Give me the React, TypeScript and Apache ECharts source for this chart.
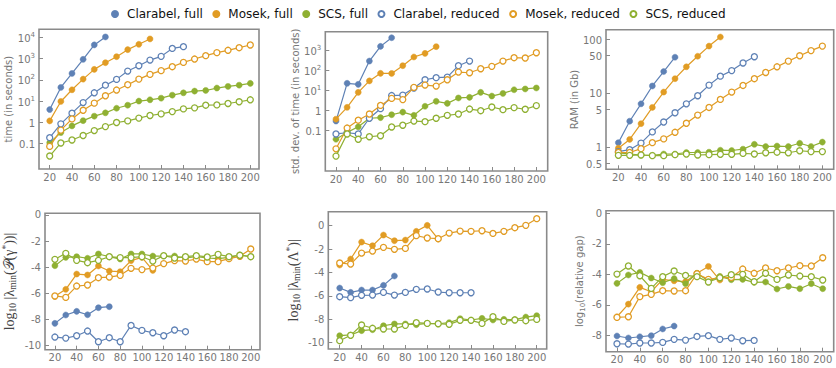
import React, { useEffect, useRef } from "react";
import * as echarts from "echarts";

const sizes = [20, 30, 40, 50, 60, 70, 80, 90, 100, 110, 120, 130, 140, 150, 160, 170, 180, 190, 200];
const seriesNames = ["Clarabel, full", "Mosek, full", "SCS, full", "Clarabel, reduced", "Mosek, reduced", "SCS, reduced"];
const xTickLabels = [20, 40, 60, 80, 100, 120, 140, 160, 180, 200];

// time (seconds)
const timeClarabelFull = [4.0, 44, 200, 920, 4400, 10400];
const timeMosekFull = [1.17, 9.6, 34, 108, 310, 640, 1230, 2630, 4700, 8400];
const timeScsFull = [0.11, 0.33, 0.68, 1.2, 1.95, 2.8, 4.6, 6.4, 10, 11.5, 13.7, 19, 24.5, 29.5, 31.6, 41, 49, 56, 68];
const timeClarabelReduced = [0.19, 0.85, 2.7, 8.5, 24.5, 56, 105, 258, 460, 850, 1270, 3000, 3630];
const timeMosekReduced = [0.074, 0.43, 1.45, 3.7, 8.0, 17.8, 33, 59, 108, 180, 270, 415, 660, 950, 1370, 1900, 2450, 3250, 4350];
const timeScsReduced = [0.026, 0.107, 0.148, 0.24, 0.41, 0.63, 0.98, 1.17, 1.58, 2.1, 2.5, 3.2, 4.3, 4.8, 6.4, 6.6, 7.7, 9.3, 11.5];

// std. dev. of time (seconds)
const sdClarabelFull = [0.29, 22, 19.5, 282, 1520, 4100];
const sdMosekFull = [0.36, 1.4, 7.8, 29, 69, 68, 166, 450, 680, 1470];
const sdScsFull = [0.036, 0.079, 0.15, 0.4, 0.43, 0.6, 0.81, 0.56, 1.58, 2.8, 2.2, 4.1, 4.4, 7.8, 5.1, 6.9, 10.5, 11.5, 12.9];
const sdClarabelReduced = [0.066, 0.076, 0.066, 0.4, 1.2, 5.4, 5.7, 12.9, 33, 42, 45, 166, 282];
const sdMosekReduced = [0.012, 0.13, 0.32, 0.65, 1.74, 3.9, 3.4, 13.8, 18, 16, 33, 80, 74, 117, 154, 282, 415, 400, 735];
const sdScsReduced = [0.0052, 0.066, 0.036, 0.048, 0.054, 0.147, 0.18, 0.29, 0.27, 0.4, 0.56, 0.65, 1.15, 0.95, 1.45, 1.07, 1.35, 1.12, 1.7];

// RAM (Gb)
const ramClarabelFull = [1.2, 3.0, 6.3, 13.5, 25, 46];
const ramMosekFull = [0.95, 1.38, 2.7, 5.4, 10.4, 18.4, 30.6, 48, 74, 109];
const ramScsFull = [0.78, 0.74, 0.71, 0.7, 0.74, 0.74, 0.79, 0.79, 0.8, 0.87, 0.86, 0.91, 1.12, 1.02, 1.04, 1.02, 1.17, 1.02, 1.23];
const ramClarabelReduced = [0.82, 0.89, 1.18, 1.9, 2.9, 4.3, 6.3, 8.9, 14, 20.5, 26, 36, 47];
const ramMosekReduced = [0.79, 0.79, 0.93, 1.2, 1.41, 1.87, 2.75, 3.9, 5.4, 7.6, 10.4, 13.8, 18.4, 24, 30.6, 39, 49, 61, 74];
const ramScsReduced = [0.7, 0.7, 0.71, 0.69, 0.69, 0.72, 0.74, 0.71, 0.72, 0.73, 0.73, 0.76, 0.74, 0.78, 0.8, 0.78, 0.85, 0.82, 0.82];

// log10 |lambda_min(P(gamma*))|
const lpClarabelFull = [-8.31, -7.67, -7.39, -7.65, -7.11, -7.03];
const lpMosekFull = [-6.24, -5.7, -4.53, -4.6, -3.91, -4.3, -4.35, -3.5, -3.25, -4.25];
const lpScsFull = [-3.89, -3.25, -3.2, -3.32, -2.99, -3.2, -3.38, -2.99, -2.99, -3.15, -3.15, -3.15, -3.3, -3.2, -3.3, -3.35, -3.25, -3.07, -3.2];
const lpClarabelReduced = [-9.36, -9.44, -9.26, -8.9, -9.72, -9.41, -9.72, -8.47, -8.85, -9.03, -9.26, -8.82, -8.95];
const lpMosekReduced = [-6.21, -6.32, -5.45, -5.37, -4.81, -4.76, -4.63, -4.09, -4.19, -4.07, -3.73, -3.5, -3.53, -3.38, -3.58, -3.58, -3.35, -3.17, -2.61];
const lpScsReduced = [-3.4, -2.94, -3.48, -3.66, -3.48, -3.2, -3.27, -3.27, -3.2, -3.53, -3.12, -3.3, -3.2, -3.12, -3.22, -3.02, -3.2, -3.09, -3.2];

// log10 |lambda_min(Lambda*)|
const llClarabelFull = [-5.33, -5.7, -5.5, -5.5, -5.1, -4.3];
const llMosekFull = [-3.36, -2.85, -1.4, -1.71, -0.8, -1.28, -1.23, -0.48, 0.03, -1.14];
const llScsFull = [-9.4, -9.34, -8.97, -8.89, -8.55, -8.4, -8.4, -8.46, -8.35, -8.38, -8.29, -7.95, -8.06, -7.92, -8.06, -8.01, -8.03, -7.81, -7.69];
const llClarabelReduced = [-6.07, -6.15, -5.95, -5.93, -5.7, -5.93, -5.7, -5.44, -5.41, -5.67, -5.73, -5.73, -5.73];
const llMosekReduced = [-3.19, -3.28, -2.34, -2.17, -1.85, -2.02, -1.94, -0.85, -1.05, -1.11, -0.63, -0.46, -0.48, -0.43, -0.66, -0.48, -0.17, 0.03, 0.6];
const llScsReduced = [-9.83, -9.37, -8.49, -8.77, -8.83, -8.83, -8.52, -8.29, -8.35, -8.38, -8.43, -8.09, -8.09, -8.35, -7.78, -8.18, -8.06, -8.12, -8.01];

// log10(relative gap)
const gapClarabelFull = [-8.04, -8.17, -8.09, -8.02, -7.58, -7.39];
const gapMosekFull = [-6.78, -5.95, -4.85, -5.14, -4.33, -4.42, -4.48, -3.93, -3.48, -4.37];
const gapScsFull = [-4.59, -4.04, -3.87, -4.24, -4.55, -4.28, -4.61, -3.93, -4.44, -4.13, -4.35, -4.33, -4.52, -4.5, -4.96, -4.79, -4.94, -4.61, -4.94];
const gapClarabelReduced = [-8.55, -8.57, -8.5, -8.5, -8.46, -8.26, -8.31, -8.07, -8.02, -8.26, -8.17, -8.35, -8.33];
const gapMosekReduced = [-6.82, -6.78, -5.46, -5.31, -5.07, -5.09, -5.07, -3.96, -4.33, -4.22, -4.2, -3.65, -3.93, -3.58, -3.76, -3.58, -3.43, -3.45, -2.91];
const gapScsReduced = [-3.98, -3.45, -4.09, -4.92, -4.15, -3.78, -4.07, -4.15, -4.5, -4.22, -4.02, -4.0, -4.48, -3.93, -4.33, -4.04, -4.11, -4.15, -4.37];

// tick labels
const timeTicks = [0.1, 1, 10, 100, 1000, 10000];
const sdTicks = [0.1, 1, 10, 100, 1000];
const ramTicks = [0.5, 1, 5, 10, 50, 100];
const lpTicks = [0, -2, -4, -6, -8, -10];
const llTicks = [0, -2, -4, -6, -8, -10];
const gapTicks = [0, -2, -4, -6, -8];

const COLORS = ["#5E81B5", "#E19C24", "#8FB032"];
const FRAME = "#8a8a8a";
const LABEL = "#777777";

const panels = [
  { data: [timeClarabelFull, timeMosekFull, timeScsFull, timeClarabelReduced, timeMosekReduced, timeScsReduced], log: true, ticks: timeTicks, pow: true, name: "time (in seconds)", nameKind: "sans" },
  { data: [sdClarabelFull, sdMosekFull, sdScsFull, sdClarabelReduced, sdMosekReduced, sdScsReduced], log: true, ticks: sdTicks, pow: true, name: "std. dev. of time (in seconds)", nameKind: "sans" },
  { data: [ramClarabelFull, ramMosekFull, ramScsFull, ramClarabelReduced, ramMosekReduced, ramScsReduced], log: true, ticks: ramTicks, pow: false, name: "RAM (in Gb)", nameKind: "sans" },
  { data: [lpClarabelFull, lpMosekFull, lpScsFull, lpClarabelReduced, lpMosekReduced, lpScsReduced], log: false, ticks: lpTicks, pow: false, name: "{n|log}{sub|10}{n| |λ}{sub|min}{n|(𝒫(γ}{sup|*}{n|))|}", nameKind: "math" },
  { data: [llClarabelFull, llMosekFull, llScsFull, llClarabelReduced, llMosekReduced, llScsReduced], log: false, ticks: llTicks, pow: false, name: "{n|log}{sub|10}{n| |λ}{sub|min}{n|(Λ}{sup|*}{n|)|}", nameKind: "math" },
  { data: [gapClarabelFull, gapMosekFull, gapScsFull, gapClarabelReduced, gapMosekReduced, gapScsReduced], log: false, ticks: gapTicks, pow: false, name: "{n|log}{sub|10}{n|(relative gap)}", nameKind: "sansrich" },
];

// layout: box position (px) and axis ranges
const layout = [
  { left: 39, top: 29.3, width: 220, height: 139.7, xMin: 10.4, xMax: 207.8, yMin: -2.195, yMax: 4.377, nameGap: 24 },
  { left: 325.3, top: 31.7, width: 222.4, height: 139.3, xMin: 10.4, xMax: 210.2, yMin: -3.025, yMax: 3.913, nameGap: 24 },
  { left: 606, top: 29.7, width: 227.7, height: 139.6, xMin: 9.1, xMax: 210, yMin: -0.414, yMax: 2.173, nameGap: 21 },
  { left: 42.3, top: 213.3, width: 217.7, height: 136.4, xMin: 10.9, xMax: 208.5, yMin: -10.33, yMax: 0.128, nameGap: 27 },
  { left: 328.3, top: 211.7, width: 218.4, height: 137.3, xMin: 9.6, xMax: 209.1, yMin: -10.54, yMax: 1.197, nameGap: 26 },
  { left: 606, top: 210.7, width: 227.7, height: 141, xMin: 10.4, xMax: 209.6, yMin: -9.07, yMax: 0.175, nameGap: 20 },
];

function buildOption() {
  const grid: any[] = [];
  const xAxis: any[] = [];
  const yAxis: any[] = [];
  const series: any[] = [];

  panels.forEach((p, pi) => {
    const L = layout[pi];
    grid.push({
      left: L.left, top: L.top, width: L.width, height: L.height,
      show: true, borderColor: FRAME, borderWidth: 1.6, backgroundColor: "transparent",
    });
    xAxis.push({
      type: "value", gridIndex: pi, min: L.xMin, max: L.xMax, position: "bottom",
      axisLine: { show: false, onZero: false },
      splitLine: { show: false },
      axisTick: { show: true, inside: true, length: 4, customValues: xTickLabels, lineStyle: { color: FRAME, width: 1 } },
      axisLabel: { customValues: xTickLabels, color: LABEL, fontSize: 10, fontFamily: "DejaVu Sans", margin: 3 },
    });
    const tickVals = p.log ? p.ticks.map((t) => Math.log10(t)) : p.ticks;
    const formatter = (v: number) => {
      if (!p.log) return String(Math.round(v));
      const raw = Math.pow(10, v);
      const r = Math.round(raw * 10) / 10;
      if (p.pow && r >= 10) {
        const e = String(Math.round(v));
        return "{b|10}{s|" + e + "}";
      }
      return "{b|" + String(r) + "}";
    };
    let nameTextStyle: any;
    if (p.nameKind === "sans") {
      nameTextStyle = { color: LABEL, fontSize: 10, fontFamily: "DejaVu Sans" };
    } else if (p.nameKind === "sansrich") {
      nameTextStyle = {
        color: LABEL, fontSize: 10, fontFamily: "DejaVu Sans",
        rich: {
          n: { color: LABEL, fontSize: 10, fontFamily: "DejaVu Sans", lineHeight: 14, verticalAlign: "middle" },
          sub: { color: LABEL, fontSize: 7, fontFamily: "DejaVu Sans", lineHeight: 14, verticalAlign: "bottom" },
        },
      };
    } else {
      nameTextStyle = {
        color: "#444", fontSize: 14, fontFamily: "Liberation Serif",
        rich: {
          n: { color: "#444", fontSize: 14, fontFamily: "Liberation Serif", lineHeight: 17, verticalAlign: "middle" },
          sub: { color: "#444", fontSize: 9.5, fontFamily: "Liberation Serif", lineHeight: 17, verticalAlign: "bottom" },
          sup: { color: "#444", fontSize: 9.5, fontFamily: "Liberation Serif", lineHeight: 17, verticalAlign: "top" },
        },
      };
    }
    yAxis.push({
      type: "value", gridIndex: pi, min: L.yMin, max: L.yMax, position: "left",
      name: p.name, nameLocation: "middle", nameRotate: 90, nameGap: L.nameGap, nameTextStyle,
      axisLine: { show: false, onZero: false },
      splitLine: { show: false },
      axisTick: { show: true, inside: true, length: 4, customValues: tickVals, lineStyle: { color: FRAME, width: 1 } },
      axisLabel: {
        customValues: tickVals, color: LABEL, fontSize: 10, fontFamily: "DejaVu Sans", margin: 4,
        formatter,
        rich: {
          b: { color: LABEL, fontSize: 10, fontFamily: "DejaVu Sans", lineHeight: 12, verticalAlign: "bottom" },
          s: { color: LABEL, fontSize: 7, fontFamily: "DejaVu Sans", lineHeight: 12, verticalAlign: "top" },
        },
      },
    });

    p.data.forEach((vals, k) => {
      const color = COLORS[k % 3];
      const filled = k < 3;
      series.push({
        type: "line",
        name: seriesNames[k],
        xAxisIndex: pi,
        yAxisIndex: pi,
        data: vals.map((v, i) => [sizes[i], p.log ? Math.log10(v) : v]),
        symbol: "circle",
        symbolSize: 6,
        showSymbol: true,
        clip: false,
        lineStyle: { color, width: 1.2 },
        itemStyle: filled
          ? { color, borderColor: color, borderWidth: 0.5 }
          : { color: "#ffffff", borderColor: color, borderWidth: 1.3 },
        emphasis: { disabled: true },
        silent: true,
        z: 2 + k,
      });
    });
  });

  return {
    animation: false,
    backgroundColor: "#ffffff",
    legend: {
      show: true,
      left: 106,
      top: 3,
      icon: "circle",
      itemWidth: 14,
      itemHeight: 6,
      itemGap: 9.5,
      selectedMode: false,
      data: seriesNames,
      textStyle: { color: "#111", fontSize: 12, fontFamily: "DejaVu Sans" },
    },
    grid,
    xAxis,
    yAxis,
    series,
  };
}

export default function App() {
  const ref = useRef<HTMLDivElement>(null);
  useEffect(() => {
    if (!ref.current) return;
    const chart = echarts.init(ref.current, null, { renderer: "svg" });
    chart.setOption(buildOption() as any);
    return () => chart.dispose();
  }, []);
  return (
    <div
      ref={ref}
      style={{ position: "fixed", left: 0, top: 0, width: 836, height: 368, background: "#fff" }}
    />
  );
}
